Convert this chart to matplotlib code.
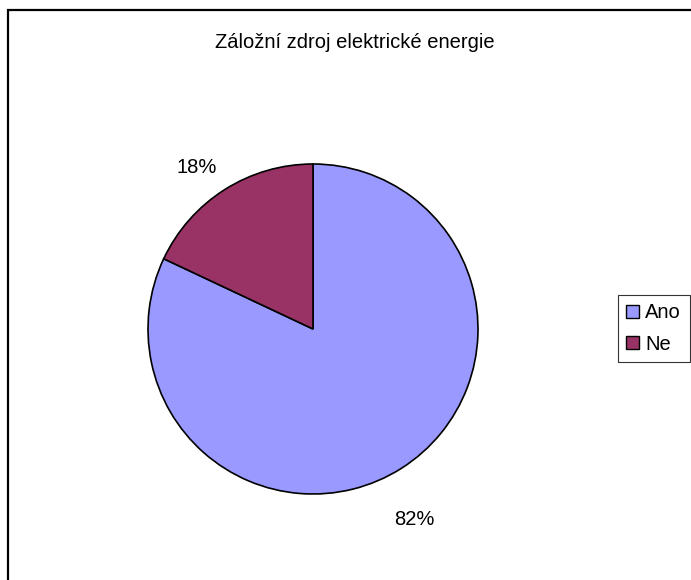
import numpy as np
import matplotlib
matplotlib.use("Agg")
import matplotlib.pyplot as plt
from matplotlib.patches import Rectangle, Patch

plt.rcParams['font.family'] = ['Liberation Sans', 'DejaVu Sans']

title = "Záložní zdroj elektrické energie"
categories = ["Ano", "Ne"]
values = [82, 18]
colors = ["#9999FF", "#993366"]

W, H = 691, 580
fig = plt.figure(figsize=(W / 100, H / 100), dpi=100)

# outer chart frame (only top and left edges fall inside the image)
fig.patches.append(Rectangle((8 / W, -0.1), 1.2, (H - 10) / H + 0.1,
                             transform=fig.transFigure, fill=False,
                             edgecolor="black", linewidth=1.6))

cx, cy, r = 313, 329, 165
ax = fig.add_axes([(cx - r) / W, (H - cy - r) / H, 2 * r / W, 2 * r / H])
wedges, _ = ax.pie(values, colors=colors, startangle=90, counterclock=False,
                   radius=1.0, wedgeprops=dict(edgecolor="black", linewidth=1.2))
ax.set_xlim(-1, 1)
ax.set_ylim(-1, 1)
ax.set_aspect("equal")
ax.axis("off")

# percentage labels outside the slices
dists = [1.31, 1.21]
shifts = [-4.3, 3.4]
total = sum(values)
for w, v, d, s in zip(wedges, values, dists, shifts):
    ang = np.deg2rad((w.theta1 + w.theta2) / 2 + s)
    ax.text(d * np.cos(ang), d * np.sin(ang), f"{round(100 * v / total)}%",
            ha="center", va="center", fontsize=14.5, clip_on=False)

fig.text(355 / W, 1 - 43 / H, title, ha="center", va="center", fontsize=14.5)

handles = [Patch(facecolor=c, edgecolor="black", linewidth=1.0) for c in colors]
leg = fig.legend(handles, categories, loc="upper left",
                 bbox_to_anchor=(618 / W, 1 - 295 / H), fontsize=14.5,
                 frameon=True, fancybox=False, shadow=False,
                 handlelength=0.62, handleheight=0.62, handletextpad=0.32,
                 borderpad=0.42, labelspacing=0.62, borderaxespad=0)
leg.get_frame().set_edgecolor("black")
leg.get_frame().set_linewidth(0.8)

fig.savefig("out.png", dpi=100)
